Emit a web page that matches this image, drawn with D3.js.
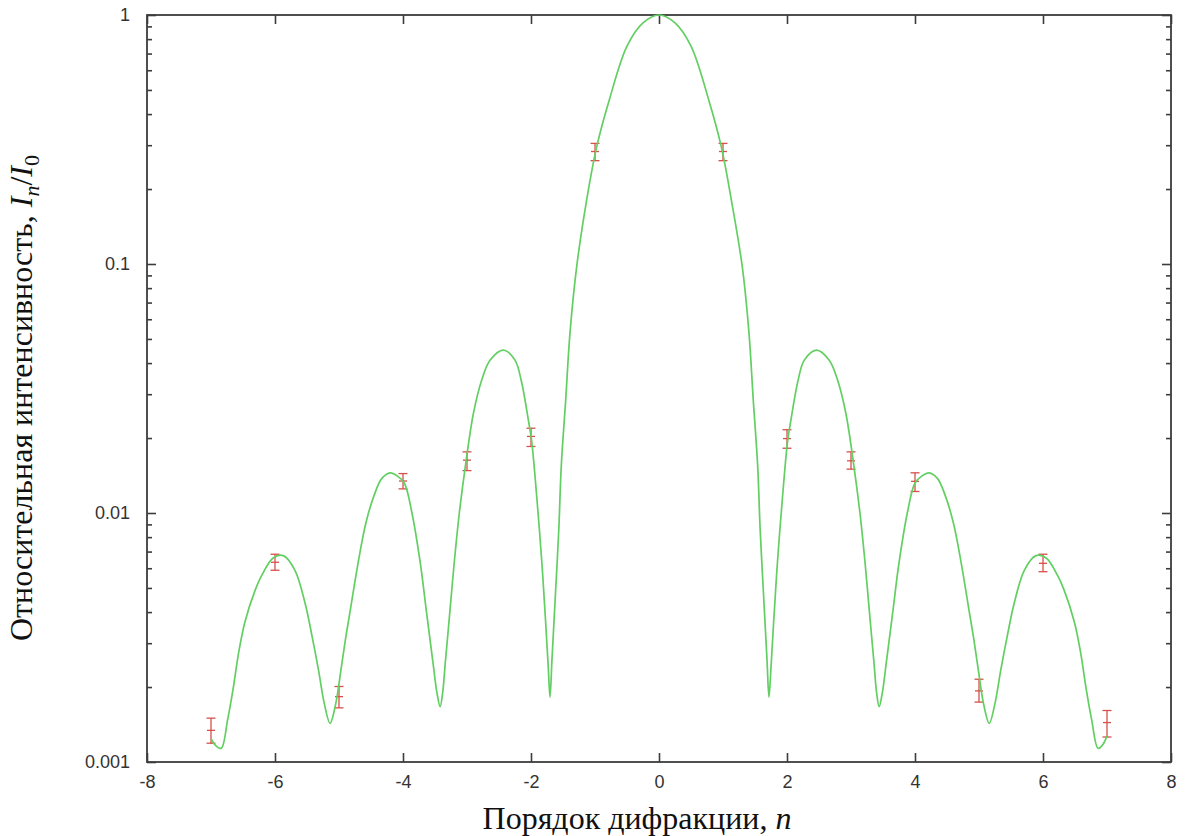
<!DOCTYPE html>
<html>
<head>
<meta charset="utf-8">
<script src="https://cdn.jsdelivr.net/npm/d3@7"></script>
<style>
  html, body { margin: 0; padding: 0; background: #fff; }
  svg { display: block; }
</style>
</head>
<body>
<svg id="chart" width="1187" height="836"></svg>
<script>
// ---- data ----
const xTicks = [-8, -6, -4, -2, 0, 2, 4, 6, 8];
const yTicks = [0.001, 0.01, 0.1, 1];
const yTickLabels = ["0.001", "0.01", "0.1", "1"];
const yMinor = [0.002,0.003,0.004,0.005,0.006,0.007,0.008,0.009,
                0.02,0.03,0.04,0.05,0.06,0.07,0.08,0.09,
                0.2,0.3,0.4,0.5,0.6,0.7,0.8,0.9];

// measured diffraction orders and intensities with error bar limits
const orders   = [-7, -6, -5, -4, -3, -2, -1, 1, 2, 3, 4, 5, 6, 7];
const measured = [0.00134, 0.00634, 0.00183, 0.01344, 0.0163, 0.0203, 0.283,
                  0.283, 0.0199, 0.0162, 0.0134, 0.00193, 0.00628, 0.00144];
const errLow   = [0.00119, 0.00589, 0.00165, 0.0125, 0.0148, 0.0185, 0.260,
                  0.260, 0.0182, 0.0150, 0.0122, 0.00174, 0.00581, 0.00126];
const errHigh  = [0.00150, 0.00683, 0.00201, 0.0144, 0.0176, 0.0219, 0.305,
                  0.305, 0.0216, 0.0176, 0.0145, 0.00215, 0.00683, 0.00161];

// theoretical curve, points
const curveX = [-7.00,-6.92,-6.84,-6.74,-6.65,-6.57,-6.47,-6.31,-6.21,-6.03,-5.87,-5.69,-5.53,-5.42,-5.32,-5.23,-5.14,
  -5.05,-4.97,-4.90,-4.83,-4.70,-4.58,-4.45,-4.33,-4.20,-4.09,-3.98,-3.86,-3.73,-3.63,-3.53,-3.47,-3.42,
  -3.38,-3.34,-3.27,-3.20,-3.12,-3.02,-2.90,-2.77,-2.64,-2.43,-2.25,-2.15,-2.04,-1.99,-1.91,-1.83,-1.77,-1.73,-1.703,
  -1.672,-1.623,-1.566,-1.526,-1.458,-1.391,-1.286,-1.130,-0.973,-0.777,-0.50,-0.25,0.00,
  0.25,0.50,0.777,0.973,1.13,1.301,1.406,1.473,1.541,1.581,1.638,1.687,1.718,
  1.75,1.79,1.85,1.93,2.01,2.06,2.17,2.27,2.46,2.66,2.79,2.92,3.04,3.14,3.22,3.29,3.36,3.40,3.44,
  3.49,3.55,3.65,3.75,3.88,4.00,4.11,4.22,4.35,4.47,4.60,4.72,4.85,4.92,4.99,5.07,5.16,
  5.25,5.34,5.44,5.55,5.71,5.89,6.05,6.23,6.33,6.49,6.59,6.67,6.76,6.86,6.93,7.00];
const curveY = [0.00124,0.00116,0.001135,0.00148,0.0020,0.00273,0.00365,0.0049,0.0056,0.0066,0.00674,0.0059,0.00434,0.00319,0.00234,0.00172,0.00143,
  0.00172,0.00234,0.0031,0.00398,0.00634,0.00912,0.0118,0.01378,0.0145,0.0141,0.0132,0.0100,0.0063,0.00395,0.00249,0.0019,0.00167,
  0.0019,0.00249,0.00395,0.0063,0.0100,0.0158,0.0251,0.0342,0.0411,0.0451,0.0411,0.0338,0.0235,0.0195,0.0116,0.0063,0.0036,0.0024,0.00182,
  0.00259,0.00447,0.00855,0.0156,0.0284,0.0528,0.0976,0.181,0.296,0.456,0.75,0.93,1.0,
  0.93,0.75,0.456,0.296,0.181,0.0976,0.0528,0.0284,0.0156,0.00855,0.00447,0.00259,0.00182,
  0.0024,0.0036,0.0063,0.0116,0.0195,0.0235,0.0338,0.0411,0.0451,0.0411,0.0342,0.0251,0.0158,0.0100,0.0063,0.00395,0.00249,0.0019,0.00167,
  0.0019,0.00249,0.00395,0.0063,0.0100,0.0132,0.0141,0.0145,0.01378,0.0118,0.00912,0.00634,0.00398,0.0031,0.00234,0.00172,0.00143,
  0.00172,0.00234,0.00319,0.00434,0.0059,0.00674,0.0066,0.0056,0.0049,0.00365,0.00273,0.0020,0.00148,0.001135,0.00117,0.00127];

// ---- drawing ----
const plot = {left: 147, right: 1171, top: 15, bottom: 762};
const svg = d3.select("#chart");

const x = d3.scaleLinear().domain([-8, 8]).range([plot.left, plot.right]);
const y = d3.scaleLog().domain([0.001, 1]).range([plot.bottom, plot.top]);

const axisColor = "#3c3c3c";
const labelFont = "'Liberation Sans', Arial, Helvetica, sans-serif";
const titleFont = "'Liberation Serif', 'Times New Roman', Times, serif";

function styleAxis(g) {
  g.select(".domain").remove();
  g.selectAll(".tick line").attr("stroke", axisColor).attr("stroke-width", 1.6);
  g.selectAll(".tick text").attr("fill", "#333").attr("font-family", labelFont).attr("font-size", 18);
}

// bottom axis with labels
svg.append("g").attr("transform", `translate(0,${plot.bottom})`)
  .call(d3.axisBottom(x).tickValues(xTicks).tickSize(-9).tickPadding(13).tickFormat(d => String(d)))
  .call(styleAxis);
// top axis (ticks only)
svg.append("g").attr("transform", `translate(0,${plot.top})`)
  .call(d3.axisTop(x).tickValues(xTicks).tickSize(-9).tickFormat(""))
  .call(styleAxis);
// left axis with labels
svg.append("g").attr("transform", `translate(${plot.left},0)`)
  .call(d3.axisLeft(y).tickValues(yTicks).tickSize(-9).tickPadding(17)
        .tickFormat((d, i) => yTickLabels[i]))
  .call(styleAxis);
svg.append("g").attr("transform", `translate(${plot.left},0)`)
  .call(d3.axisLeft(y).tickValues(yMinor).tickSize(-5).tickFormat(""))
  .call(styleAxis);
// right axis (ticks only)
svg.append("g").attr("transform", `translate(${plot.right},0)`)
  .call(d3.axisRight(y).tickValues(yTicks).tickSize(-9).tickFormat(""))
  .call(styleAxis);
svg.append("g").attr("transform", `translate(${plot.right},0)`)
  .call(d3.axisRight(y).tickValues(yMinor).tickSize(-5).tickFormat(""))
  .call(styleAxis);

// frame
svg.append("rect")
  .attr("x", plot.left).attr("y", plot.top)
  .attr("width", plot.right - plot.left).attr("height", plot.bottom - plot.top)
  .attr("fill", "none").attr("stroke", axisColor).attr("stroke-width", 1.8);

// error bars
const errColor = "#d8504a";
const bars = svg.append("g").attr("stroke", errColor).attr("stroke-width", 1.3).attr("fill", "none");
orders.forEach((n, i) => {
  const cx = x(n);
  const g = bars.append("g");
  g.append("line").attr("x1", cx).attr("x2", cx).attr("y1", y(errLow[i])).attr("y2", y(errHigh[i]));
  g.append("line").attr("x1", cx - 4.5).attr("x2", cx + 4.5).attr("y1", y(errLow[i])).attr("y2", y(errLow[i]));
  g.append("line").attr("x1", cx - 4.5).attr("x2", cx + 4.5).attr("y1", y(errHigh[i])).attr("y2", y(errHigh[i]));
  g.append("line").attr("x1", cx - 4).attr("x2", cx + 4).attr("y1", y(measured[i])).attr("y2", y(measured[i]));
});

// theory curve
const curveData = curveX.map((v, i) => [v, curveY[i]]);
svg.append("path")
  .datum(curveData)
  .attr("fill", "none")
  .attr("stroke", "#62cf62")
  .attr("stroke-width", 1.7)
  .attr("d", d3.line().x(d => x(d[0])).y(d => y(d[1])).curve(d3.curveCatmullRom.alpha(0.5)));

// x title
const xt = svg.append("text")
  .attr("x", 637).attr("y", 829)
  .attr("text-anchor", "middle")
  .attr("font-family", titleFont).attr("font-size", 32).attr("fill", "#111");
xt.append("tspan").text("Порядок дифракции, ");
xt.append("tspan").attr("font-style", "italic").text("n");

// y title
const yt = svg.append("text")
  .attr("transform", `translate(32,398) rotate(-90)`)
  .attr("text-anchor", "middle")
  .attr("font-family", titleFont).attr("font-size", 32).attr("fill", "#111");
yt.append("tspan").text("Относительная интенсивность, ");
yt.append("tspan").attr("font-style", "italic").text("I");
yt.append("tspan").attr("font-style", "italic").attr("font-size", 22).attr("dy", 7).text("n");
yt.append("tspan").attr("dy", -7).text("/");
yt.append("tspan").attr("font-style", "italic").text("I");
yt.append("tspan").attr("font-size", 22).attr("dy", 7).text("0");
</script>
</body>
</html>
